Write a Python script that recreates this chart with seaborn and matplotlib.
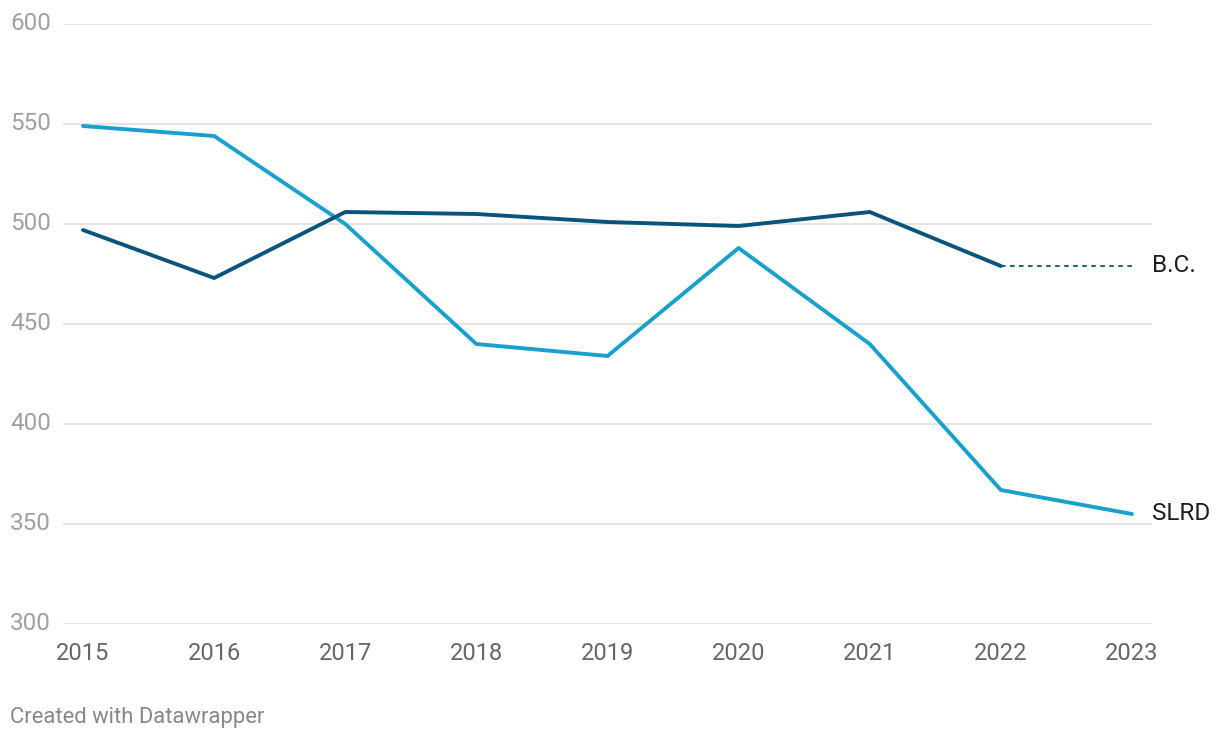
import matplotlib
matplotlib.use("Agg")
import matplotlib.pyplot as plt
import seaborn as sns
import pandas as pd

years = [2015, 2016, 2017, 2018, 2019, 2020, 2021, 2022, 2023]
slrd = [549, 544, 500, 440, 434, 488, 440, 367, 355]
bc = [497, 473, 506, 505, 501, 499, 506, 479, None]
bc_last = 479
y_ticks = [300, 350, 400, 450, 500, 550, 600]

df = pd.DataFrame({"year": years, "SLRD": slrd, "B.C.": bc})

sns.set_style("white")
plt.rcParams['font.family'] = ['Roboto', 'DejaVu Sans']

fig = plt.figure(figsize=(12.2, 7.4), dpi=100)
ax = fig.add_axes([63 / 1220, 1 - 624 / 740, (1152 - 63) / 1220, 600 / 740])

light = "#18a1cd"
dark = "#09547d"

for y in y_ticks:
    ax.axhline(y, color="#e3e3e3", lw=1.3, zorder=0)

sns.lineplot(data=df, x="year", y="SLRD", color=light, lw=2.8, ax=ax)
sns.lineplot(data=df.dropna(), x="year", y="B.C.", color=dark, lw=2.8, ax=ax)
ax.plot([2022, 2023], [bc_last, bc_last], color=dark, lw=1.3, ls=(0, (2.5, 2.5)))

ax.set_xlim(2015 - 20 / 131, 2023 + 20 / 131)
ax.set_ylim(300, 600)
ax.set_xticks(years)
ax.set_xticklabels([str(y) for y in years], fontsize=17, color="#666666")
ax.set_yticks(y_ticks)
ax.set_yticklabels([])
ax.tick_params(axis="both", length=0, pad=13)
ax.set_xlabel("")
ax.set_ylabel("")
for s in ax.spines.values():
    s.set_visible(False)

for y in y_ticks:
    fig.text(10 / 1220, ax.transData.transform((0, y))[1] / 740, str(y),
             fontsize=17.5, color="#a0a0a0", ha="left", va="center")

ax.text(2023 + 20 / 131, bc_last, "B.C.", fontsize=17.5, color="#1d1d1d",
        ha="left", va="center", clip_on=False)
ax.text(2023 + 20 / 131, 355, "SLRD", fontsize=17.5, color="#1d1d1d",
        ha="left", va="center", clip_on=False)

fig.text(10 / 1220, 1 - 717 / 740, "Created with Datawrapper", fontsize=15.8,
         color="#888888", ha="left", va="center")

fig.savefig("out.png", dpi=100)
